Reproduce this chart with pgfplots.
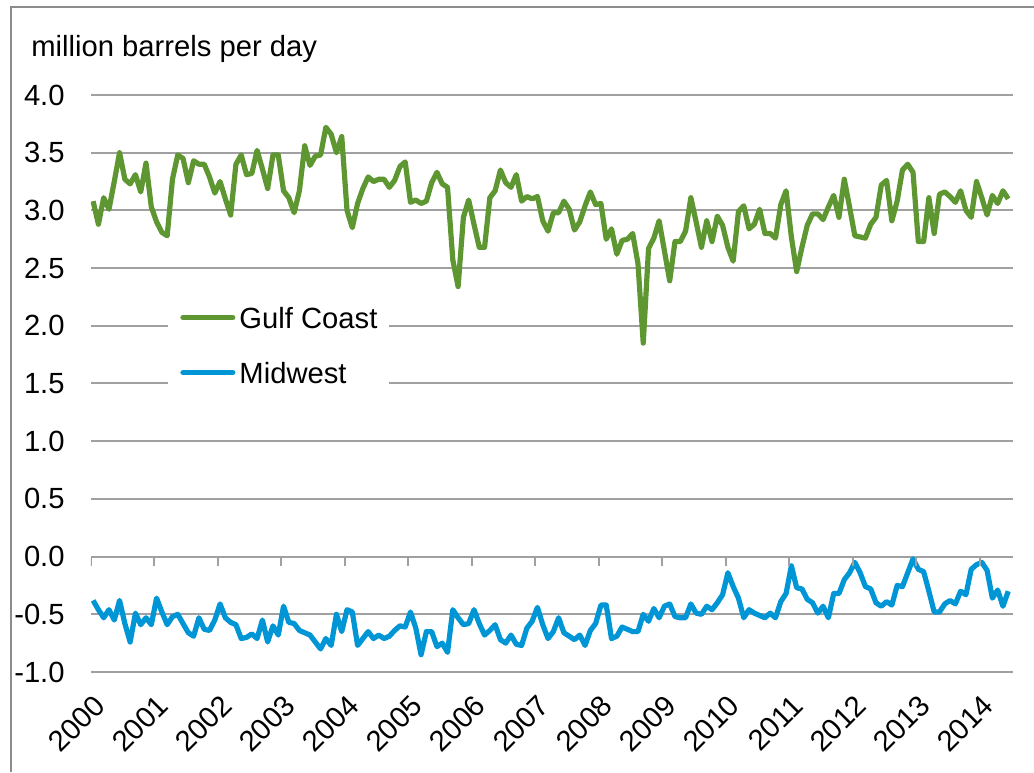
\documentclass[border=0pt]{standalone}
\usepackage{fontspec}
\setmainfont{Liberation Sans}
\usepackage{pgfplots}
\usepackage{pgfplotstable}
\pgfplotsset{compat=1.18}
\definecolor{gulf}{RGB}{94,151,50}
\definecolor{midw}{RGB}{0,150,214}
\definecolor{gridc}{RGB}{160,160,160}
\definecolor{framec}{RGB}{140,140,140}

% monthly values, Jan 2000 = 0
\pgfplotstableread{
m gulf midwest
0 3.08 -0.38
1 2.88 -0.46
2 3.11 -0.53
3 3.01 -0.46
4 3.25 -0.55
5 3.50 -0.38
6 3.27 -0.58
7 3.23 -0.74
8 3.31 -0.49
9 3.16 -0.59
10 3.41 -0.53
11 3.03 -0.59
12 2.90 -0.36
13 2.81 -0.48
14 2.78 -0.59
15 3.27 -0.52
16 3.48 -0.50
17 3.45 -0.58
18 3.24 -0.66
19 3.43 -0.69
20 3.40 -0.53
21 3.40 -0.63
22 3.29 -0.64
23 3.15 -0.55
24 3.25 -0.41
25 3.10 -0.53
26 2.96 -0.57
27 3.40 -0.59
28 3.48 -0.71
29 3.31 -0.70
30 3.32 -0.67
31 3.52 -0.71
32 3.36 -0.55
33 3.19 -0.74
34 3.48 -0.60
35 3.48 -0.68
36 3.17 -0.43
37 3.11 -0.57
38 2.98 -0.58
39 3.17 -0.64
40 3.56 -0.66
41 3.39 -0.68
42 3.47 -0.74
43 3.48 -0.80
44 3.72 -0.71
45 3.66 -0.77
46 3.50 -0.50
47 3.64 -0.65
48 3.00 -0.46
49 2.85 -0.48
50 3.06 -0.77
51 3.19 -0.71
52 3.29 -0.65
53 3.25 -0.71
54 3.27 -0.68
55 3.27 -0.71
56 3.20 -0.69
57 3.26 -0.64
58 3.38 -0.60
59 3.42 -0.61
60 3.07 -0.48
61 3.09 -0.62
62 3.06 -0.85
63 3.08 -0.65
64 3.24 -0.65
65 3.33 -0.78
66 3.23 -0.75
67 3.20 -0.83
68 2.57 -0.46
69 2.34 -0.53
70 2.94 -0.59
71 3.09 -0.58
72 2.88 -0.46
73 2.68 -0.58
74 2.68 -0.68
75 3.11 -0.64
76 3.17 -0.59
77 3.35 -0.72
78 3.24 -0.75
79 3.20 -0.68
80 3.31 -0.76
81 3.08 -0.77
82 3.12 -0.62
83 3.10 -0.56
84 3.12 -0.44
85 2.91 -0.59
86 2.82 -0.71
87 2.98 -0.65
88 2.98 -0.53
89 3.08 -0.66
90 3.01 -0.69
91 2.83 -0.72
92 2.90 -0.68
93 3.04 -0.77
94 3.16 -0.64
95 3.05 -0.58
96 3.06 -0.42
97 2.75 -0.42
98 2.84 -0.71
99 2.62 -0.69
100 2.74 -0.61
101 2.75 -0.63
102 2.80 -0.65
103 2.54 -0.65
104 1.85 -0.50
105 2.67 -0.56
106 2.76 -0.45
107 2.91 -0.53
108 2.65 -0.43
109 2.39 -0.41
110 2.73 -0.52
111 2.73 -0.53
112 2.82 -0.53
113 3.11 -0.41
114 2.90 -0.49
115 2.68 -0.50
116 2.91 -0.43
117 2.73 -0.46
118 2.95 -0.40
119 2.87 -0.33
120 2.68 -0.14
121 2.56 -0.26
122 2.99 -0.36
123 3.04 -0.53
124 2.84 -0.46
125 2.88 -0.49
126 3.01 -0.51
127 2.80 -0.53
128 2.80 -0.49
129 2.76 -0.53
130 3.05 -0.39
131 3.17 -0.32
132 2.77 -0.08
133 2.47 -0.27
134 2.68 -0.28
135 2.87 -0.37
136 2.97 -0.40
137 2.97 -0.49
138 2.92 -0.43
139 3.03 -0.53
140 3.13 -0.32
141 2.94 -0.32
142 3.27 -0.20
143 3.03 -0.14
144 2.78 -0.05
145 2.77 -0.14
146 2.76 -0.26
147 2.88 -0.28
148 2.94 -0.40
149 3.22 -0.43
150 3.26 -0.39
151 2.91 -0.42
152 3.08 -0.25
153 3.35 -0.26
154 3.40 -0.14
155 3.33 -0.02
156 2.73 -0.11
157 2.73 -0.13
158 3.11 -0.30
159 2.80 -0.48
160 3.14 -0.48
161 3.16 -0.41
162 3.12 -0.38
163 3.07 -0.41
164 3.17 -0.30
165 3.00 -0.33
166 2.94 -0.11
167 3.25 -0.07
168 3.11 -0.05
169 2.96 -0.12
170 3.13 -0.36
171 3.06 -0.29
172 3.17 -0.43
173 3.10 -0.30
}\data

\begin{document}
\begin{tikzpicture}
\useasboundingbox (0pt,0pt) rectangle (517pt,386pt);
\draw[framec, line width=1pt] (5.5pt,0pt) -- (5.5pt,382.5pt) -- (517pt,382.5pt);
\node[anchor=base west, inner sep=0pt, font=\fontsize{14.6}{17}\selectfont]
  at (15.5pt,357.5pt) {million barrels per day};
\begin{axis}[
  at={(45.5pt,50pt)}, anchor=south west,
  scale only axis, width=461pt, height=288.5pt,
  xmin=0, xmax=174.3, ymin=-1, ymax=4,
  axis line style={draw=none},
  ymajorgrids, grid style={gridc, line width=1pt},
  xtick={0,12,24,36,48,60,72,84,96,108,120,132,144,156,168},
  xticklabels={2000,2001,2002,2003,2004,2005,2006,2007,2008,2009,2010,2011,2012,2013,2014},
  ytick={-1,-0.5,0,0.5,1,1.5,2,2.5,3,3.5,4},
  yticklabels={-1.0,-0.5,0.0,0.5,1.0,1.5,2.0,2.5,3.0,3.5,4.0},
  tick style={draw=none},
  tick label style={font=\fontsize{14.6}{17}\selectfont},
  xticklabel style={xshift=0.6pt, yshift=-10.4pt, rotate=45, anchor=north east, inner sep=0pt},
  yticklabel style={anchor=east, inner sep=0pt, xshift=-13pt},
  legend style={at={(0.0835,0.6603)}, anchor=north west, draw=none, fill=white,
    inner xsep=6pt, inner ysep=8pt, row sep=15.5pt,
    font=\fontsize{14.6}{17}\selectfont,
    nodes={inner sep=0pt, anchor=base west}},
  legend cell align=left,
  legend image code/.code={\draw[#1, line cap=round] (0pt,5.5pt) -- (24.9pt,5.5pt); \path (26.95pt,5.5pt);},
]
\addplot[gulf, line width=2.6pt, line join=round] table[x expr=\thisrow{m}+0.4, y=gulf] {\data};
\addlegendentry{Gulf Coast}
\addplot[midw, line width=2.6pt, line join=round] table[x expr=\thisrow{m}+0.4, y=midwest] {\data};
\addlegendentry{Midwest}
\pgfplotsinvokeforeach{0,12,24,36,48,60,72,84,96,108,120,132,144,156,168}{
  \draw[gridc, line width=1pt] (axis cs:#1,0) -- ([yshift=-4.5pt]axis cs:#1,0);
}
\end{axis}
\end{tikzpicture}
\end{document}
